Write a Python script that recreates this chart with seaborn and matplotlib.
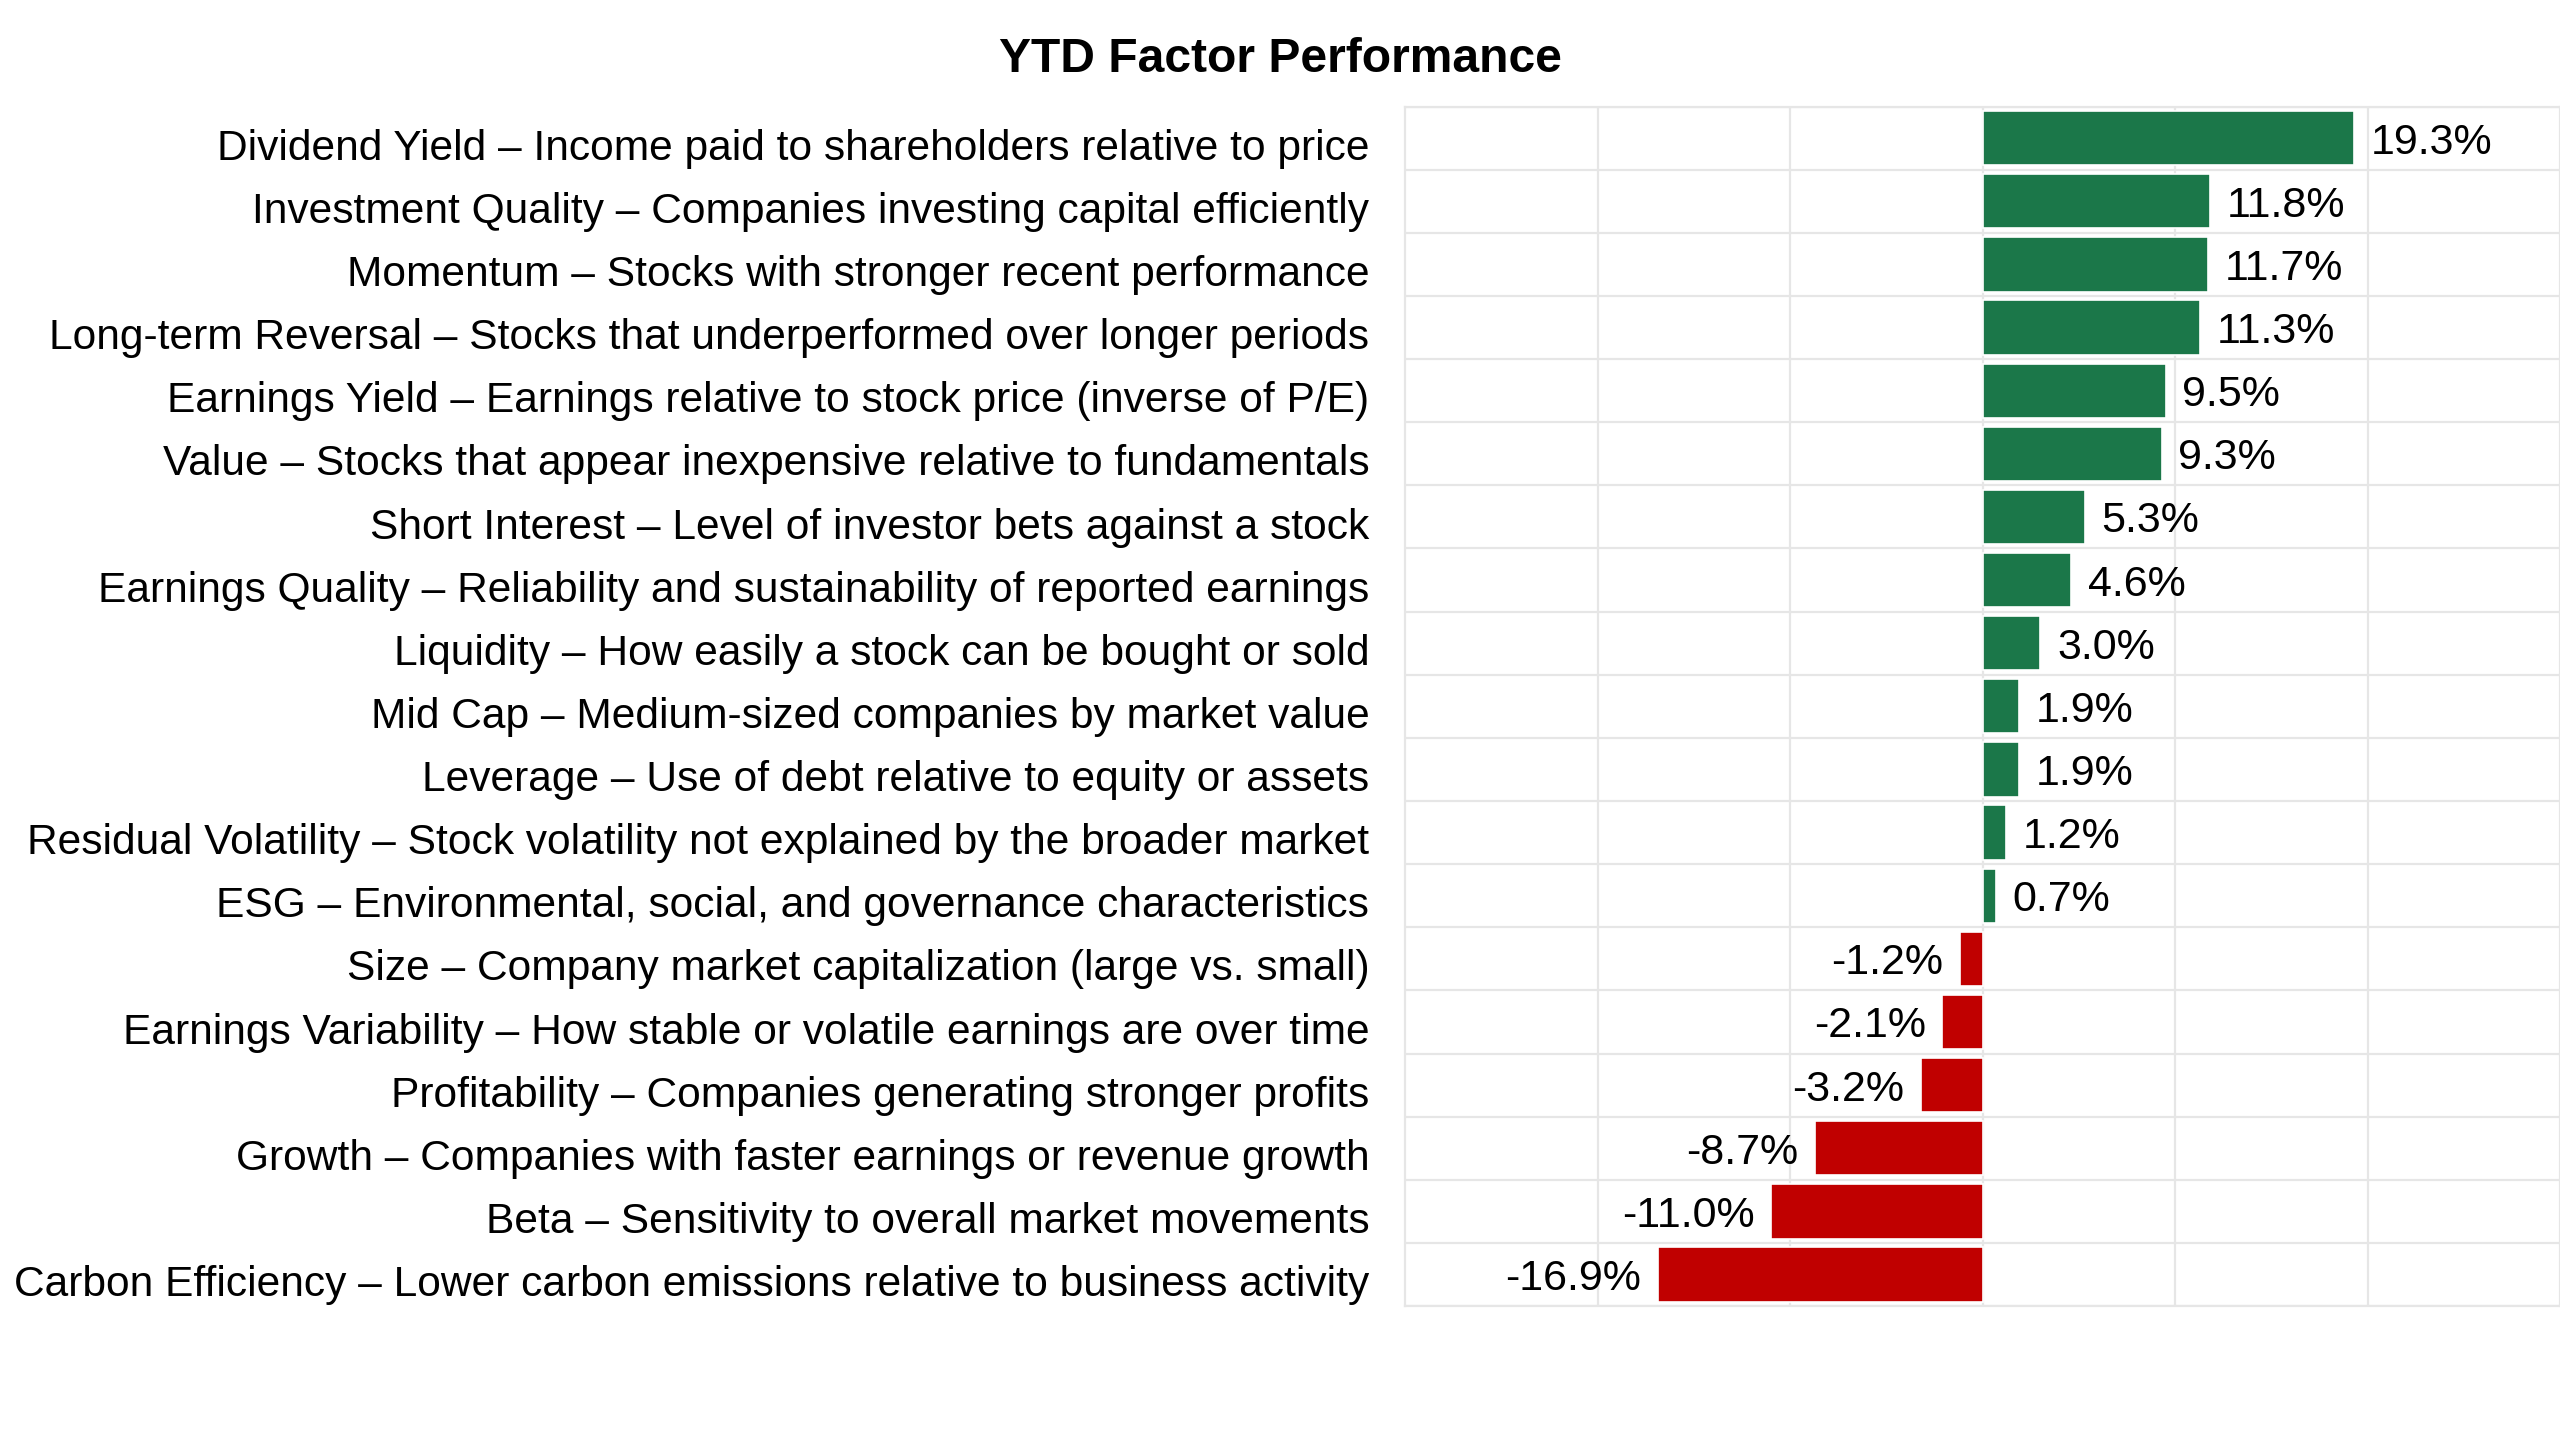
import seaborn as sns
import matplotlib.pyplot as plt
import pandas as pd

factors = [
    "Dividend Yield \u2013 Income paid to shareholders relative to price",
    "Investment Quality \u2013 Companies investing capital efficiently",
    "Momentum \u2013 Stocks with stronger recent performance",
    "Long-term Reversal \u2013 Stocks that underperformed over longer periods",
    "Earnings Yield \u2013 Earnings relative to stock price (inverse of P/E)",
    "Value \u2013 Stocks that appear inexpensive relative to fundamentals",
    "Short Interest \u2013 Level of investor bets against a stock",
    "Earnings Quality \u2013 Reliability and sustainability of reported earnings",
    "Liquidity \u2013 How easily a stock can be bought or sold",
    "Mid Cap \u2013 Medium-sized companies by market value",
    "Leverage \u2013 Use of debt relative to equity or assets",
    "Residual Volatility \u2013 Stock volatility not explained by the broader market",
    "ESG \u2013 Environmental, social, and governance characteristics",
    "Size \u2013 Company market capitalization (large vs. small)",
    "Earnings Variability \u2013 How stable or volatile earnings are over time",
    "Profitability \u2013 Companies generating stronger profits",
    "Growth \u2013 Companies with faster earnings or revenue growth",
    "Beta \u2013 Sensitivity to overall market movements",
    "Carbon Efficiency \u2013 Lower carbon emissions relative to business activity",
]
ytd_return = [19.3, 11.8, 11.7, 11.3, 9.5, 9.3, 5.3, 4.6, 3.0, 1.9, 1.9, 1.2, 0.7,
              -1.2, -2.1, -3.2, -8.7, -11.0, -16.9]

GREEN = "#1b7749"
RED = "#c00000"

dfrm = pd.DataFrame({"factor": factors, "ytd": ytd_return})
dfrm["sign"] = ["pos" if v >= 0 else "neg" for v in dfrm["ytd"]]

sns.set_theme(style="white")
plt.rcParams["font.family"] = ["Liberation Sans", "DejaVu Sans"]
plt.rcParams["text.color"] = "black"

fig = plt.figure(figsize=(12.8, 7.2), dpi=200)
axis = fig.add_axes([0.549, 0.093, 0.451, 0.833])

sns.barplot(data=dfrm, x="ytd", y="factor", hue="sign", orient="h",
            palette={"pos": GREEN, "neg": RED}, saturation=1, width=0.86, legend=False,
            edgecolor="white", linewidth=0.6, ax=axis)

axis.set_xlim(-30, 30)
axis.set_ylim(len(factors) - 0.5, -0.5)
axis.set_xticks([-20, -10, 0, 10, 20])
axis.set_xticklabels([])
axis.set_yticks(range(len(factors)))
axis.set_yticklabels([])
axis.set_yticks([i + 0.5 for i in range(-1, len(factors))], minor=True)
axis.tick_params(axis="both", which="both", length=0)
axis.grid(axis="x", which="major", color="#e6e6e6", linewidth=0.8)
axis.grid(axis="y", which="minor", color="#e6e6e6", linewidth=0.8)
axis.set_axisbelow(True)
for spine in axis.spines.values():
    spine.set_color("#e6e6e6")
    spine.set_linewidth(0.8)
axis.set_xlabel("")
axis.set_ylabel("")

# category labels, sitting slightly below the row centre as in the original
for idx, name in enumerate(factors):
    axis.annotate(name, xy=(0, idx), xycoords=("axes fraction", "data"),
                  xytext=(-13, -2.2), textcoords="offset points",
                  ha="right", va="center_baseline", fontsize=15.3, color="black")

# value labels next to each bar
for idx, val in enumerate(ytd_return):
    axis.annotate("{:.1f}%".format(val), xy=(val, idx),
                  xytext=(6 if val >= 0 else -6, 0), textcoords="offset points",
                  ha="left" if val >= 0 else "right", va="center_baseline",
                  fontsize=15.5, color="black")

fig.text(0.5, 1 - 59 / 1440, "YTD Factor Performance", ha="center", va="center",
         fontsize=17.3, fontweight="bold", color="black")
fig.savefig("out.png", dpi=200)
